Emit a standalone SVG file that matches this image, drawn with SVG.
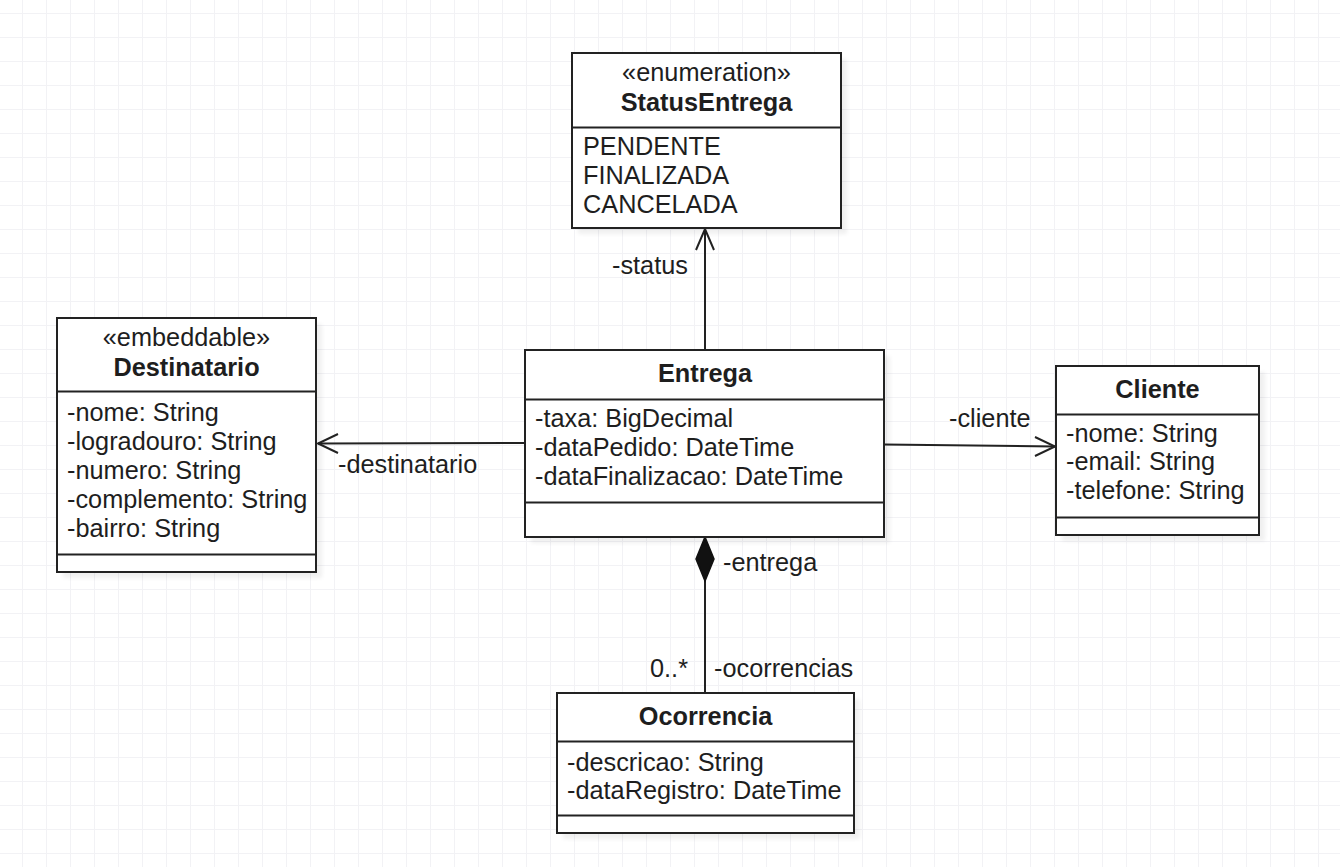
<svg xmlns="http://www.w3.org/2000/svg" width="1340" height="867" viewBox="0 0 1340 867">
<style>
.box{fill:#ffffff;stroke:#222222;stroke-width:2}
.div{stroke:#222222;stroke-width:2;fill:none}
.sh{fill:#000000;opacity:0.06}
text{font-family:"Liberation Sans",Arial,sans-serif;font-size:25.3px;fill:#1e1e1e}
.t{font-weight:bold;text-anchor:middle}
.st{text-anchor:middle}
.edge{stroke:#222222;stroke-width:2;fill:none}
</style>
<defs>
<pattern id="grid" x="22" y="13" width="24" height="24" patternUnits="userSpaceOnUse">
<path d="M0 0H24M0 0V24" stroke="#f2f2f5" stroke-width="2" fill="none"/>
</pattern>
<filter id="blur" x="-10%" y="-10%" width="120%" height="120%"><feGaussianBlur stdDeviation="2"/></filter>
</defs>
<rect width="1340" height="867" fill="#ffffff"/>
<rect width="1340" height="867" fill="url(#grid)"/>

<g id="connectors">
<line class="edge" x1="705" y1="350" x2="705" y2="229"/>
<polyline class="edge" points="696,250 705,229 714,250"/>
<text x="612" y="274">-status</text>

<line class="edge" x1="525" y1="443" x2="318" y2="443.5"/>
<polyline class="edge" points="338,434 318,443.5 338,453"/>
<text x="338" y="473">-destinatario</text>

<line class="edge" x1="884" y1="444.5" x2="1055" y2="446.5"/>
<polyline class="edge" points="1035,437 1055,446.5 1035,456"/>
<text x="949" y="427">-cliente</text>

<line class="edge" x1="705" y1="580" x2="705" y2="693"/>
<polygon points="705,537 714,559 705,581 696,559" fill="#111111" stroke="#111111" stroke-width="1.5"/>
<text x="723" y="571">-entrega</text>
<text x="650" y="677">0..*</text>
<text x="714" y="677">-ocorrencias</text>
</g>

<g id="StatusEntrega">
<rect class="sh" x="578" y="59" width="269" height="175" filter="url(#blur)"/>
<rect class="box" x="572" y="53" width="269" height="175"/>
<line class="div" x1="572" y1="127.5" x2="841" y2="127.5"/>
<text class="st" x="706.5" y="81">«enumeration»</text>
<text class="t" x="706.5" y="111">StatusEntrega</text>
<text x="583" y="155">PENDENTE</text>
<text x="583" y="184">FINALIZADA</text>
<text x="583" y="213">CANCELADA</text>
</g>

<g id="Destinatario">
<rect class="sh" x="63" y="324" width="259" height="254" filter="url(#blur)"/>
<rect class="box" x="57" y="318" width="259" height="254"/>
<line class="div" x1="57" y1="391.5" x2="316" y2="391.5"/>
<line class="div" x1="57" y1="554.5" x2="316" y2="554.5"/>
<text class="st" x="186.5" y="346">«embeddable»</text>
<text class="t" x="186.5" y="376">Destinatario</text>
<text x="67" y="421">-nome: String</text>
<text x="67" y="450">-logradouro: String</text>
<text x="67" y="479">-numero: String</text>
<text x="67" y="508">-complemento: String</text>
<text x="67" y="537">-bairro: String</text>
</g>

<g id="Entrega">
<rect class="sh" x="531" y="356" width="359" height="187" filter="url(#blur)"/>
<rect class="box" x="525" y="350" width="359" height="187"/>
<line class="div" x1="525" y1="399.5" x2="884" y2="399.5"/>
<line class="div" x1="525" y1="502.5" x2="884" y2="502.5"/>
<text class="t" x="705" y="382">Entrega</text>
<text x="535" y="427">-taxa: BigDecimal</text>
<text x="535" y="456">-dataPedido: DateTime</text>
<text x="535" y="485">-dataFinalizacao: DateTime</text>
</g>

<g id="Cliente">
<rect class="sh" x="1062" y="372" width="203" height="169" filter="url(#blur)"/>
<rect class="box" x="1056" y="366" width="203" height="169"/>
<line class="div" x1="1056" y1="414.5" x2="1259" y2="414.5"/>
<line class="div" x1="1056" y1="517.5" x2="1259" y2="517.5"/>
<text class="t" x="1157.5" y="398">Cliente</text>
<text x="1066" y="442">-nome: String</text>
<text x="1066" y="470">-email: String</text>
<text x="1066" y="499">-telefone: String</text>
</g>

<g id="Ocorrencia">
<rect class="sh" x="563" y="699" width="297" height="140" filter="url(#blur)"/>
<rect class="box" x="557" y="693" width="297" height="140"/>
<line class="div" x1="557" y1="741.5" x2="854" y2="741.5"/>
<line class="div" x1="557" y1="815.5" x2="854" y2="815.5"/>
<text class="t" x="705.5" y="725">Ocorrencia</text>
<text x="567" y="771">-descricao: String</text>
<text x="567" y="799">-dataRegistro: DateTime</text>
</g>
</svg>
